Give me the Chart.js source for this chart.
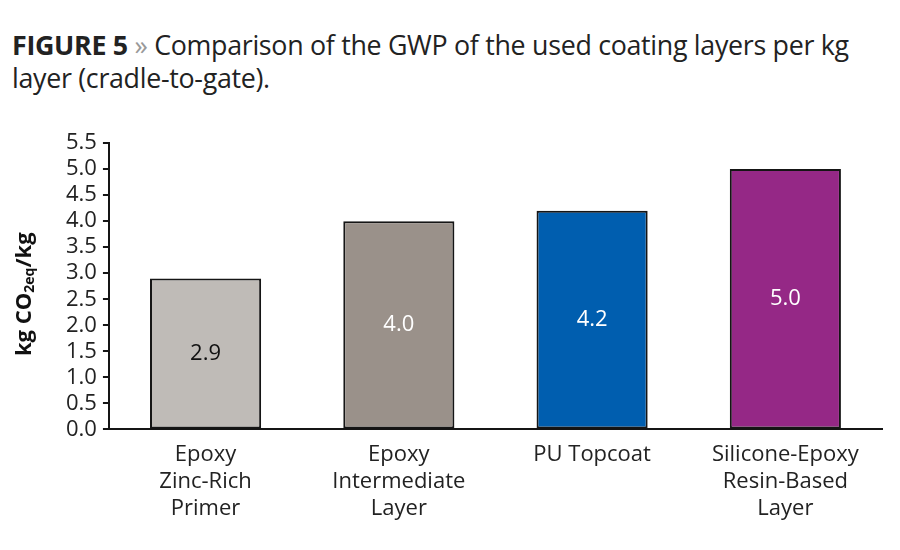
<!DOCTYPE html>
<html>
<head>
<meta charset="utf-8">
<script src="https://cdn.jsdelivr.net/npm/chart.js"></script>
<style>
body { margin: 0; background: #fff; font-family: "Open Sans", sans-serif; }
#title { position: absolute; left: 12px; top: 28px; width: 870px; font-size: 26.8px; line-height: 33px; color: #222; letter-spacing: -0.3px; }
#title b { font-weight: 700; }
#title .arr { color: #999; }
#wrap { position: absolute; left: 0; top: 100px; width: 900px; height: 450px; }
</style>
</head>
<body>
<div id="title"><b>FIGURE 5</b> <span class="arr">»</span> Comparison of the GWP of the used coating layers per kg layer (cradle-to-gate).</div>
<div id="wrap"><canvas id="chart"></canvas></div>
<script>
const categories = [
  ["Epoxy", "Zinc-Rich", "Primer"],
  ["Epoxy", "Intermediate", "Layer"],
  ["PU Topcoat"],
  ["Silicone-Epoxy", "Resin-Based", "Layer"]
];
const gwpValues = [2.9, 4.0, 4.2, 5.0];
const barColors = ["#bfbbb7", "#9a918a", "#005eaf", "#952886"];
const valueTextColors = ["#111", "#fff", "#fff", "#fff"];

// value written in the middle of each bar
const valueLabels = {
  id: 'valueLabels',
  afterDatasetsDraw(chart) {
    const ctx = chart.ctx;
    const meta = chart.getDatasetMeta(0);
    ctx.save();
    ctx.font = '22px "Open Sans"';
    ctx.textAlign = 'center';
    ctx.textBaseline = 'middle';
    meta.data.forEach((bar, i) => {
      ctx.fillStyle = valueTextColors[i];
      ctx.fillText(gwpValues[i].toFixed(1), bar.x, (bar.y + bar.base) / 2);
    });
    ctx.restore();
  }
};

// y axis title with subscript
const yTitle = {
  id: 'yTitle',
  afterDraw(chart) {
    const ctx = chart.ctx;
    const area = chart.chartArea;
    const parts = [
      { t: 'kg CO', f: 'bold 22px "Open Sans"', dy: 0 },
      { t: '2eq', f: 'bold 14px "Open Sans"', dy: 5 },
      { t: '/kg', f: 'bold 22px "Open Sans"', dy: 0 }
    ];
    ctx.save();
    let total = 0;
    parts.forEach(p => { ctx.font = p.f; p.w = ctx.measureText(p.t).width; total += p.w; });
    ctx.translate(25, (area.top + area.bottom) / 2 + 8);
    ctx.rotate(-Math.PI / 2);
    ctx.fillStyle = '#111';
    ctx.textBaseline = 'middle';
    let x = -total / 2;
    parts.forEach(p => {
      ctx.font = p.f;
      ctx.fillText(p.t, x, p.dy);
      x += p.w;
    });
    ctx.restore();
  }
};

new Chart(document.getElementById('chart'), {
  type: 'bar',
  data: {
    labels: categories,
    datasets: [{
      data: gwpValues,
      backgroundColor: barColors,
      borderColor: '#151515',
      borderWidth: 2,
      borderSkipped: false,
      categoryPercentage: 1,
      barPercentage: 0.575
    }]
  },
  options: {
    responsive: true,
    maintainAspectRatio: false,
    animation: false,
    layout: { padding: { left: 60, right: 18, top: 43, bottom: 24 } },
    plugins: { legend: { display: false }, tooltip: { enabled: false } },
    scales: {
      x: {
        grid: { display: false },
        border: { display: true, color: '#151515', width: 2 },
        ticks: { color: '#222', font: { family: 'Open Sans', size: 22, lineHeight: 1.22 }, padding: 4, maxRotation: 0 }
      },
      y: {
        min: 0,
        max: 5.5,
        grid: { drawOnChartArea: false, drawTicks: true, tickLength: 6, color: '#151515', lineWidth: 2 },
        border: { display: true, color: '#151515', width: 2 },
        ticks: {
          stepSize: 0.5,
          autoSkip: false,
          padding: 6,
          color: '#222',
          font: { family: 'Open Sans', size: 22 },
          callback: v => v.toFixed(1)
        }
      }
    }
  },
  plugins: [valueLabels, yTitle]
});
</script>
</body>
</html>
